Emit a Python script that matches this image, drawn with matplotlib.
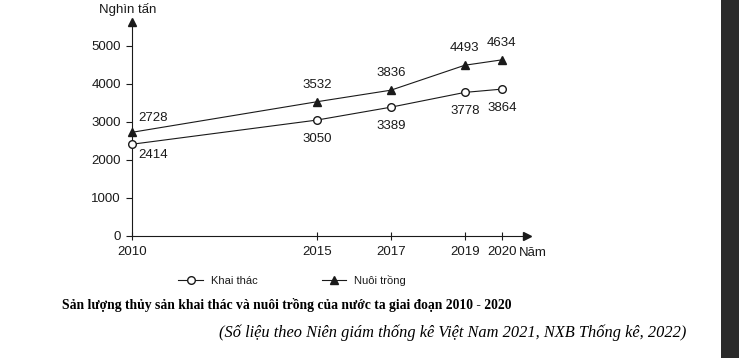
import matplotlib
matplotlib.use("Agg")
import matplotlib.pyplot as plt
from matplotlib.patches import Rectangle

years = [2010, 2015, 2017, 2019, 2020]
khai_thac = [2414, 3050, 3389, 3778, 3864]
nuoi_trong = [2728, 3532, 3836, 4493, 4634]
y_ticks = [0, 1000, 2000, 3000, 4000, 5000]

SANS = ["Liberation Sans", "DejaVu Sans"]
SERIF = ["Liberation Serif", "DejaVu Serif"]
INK = "#1a1a1a"

plt.rcParams["font.family"] = SANS

fig = plt.figure(figsize=(7.39, 3.58), dpi=100)
fig.patch.set_facecolor("white")

ax = fig.add_axes([132 / 739, 1 - 236 / 358, 395 / 739, 214 / 358])

ax.plot(
    years,
    nuoi_trong,
    color=INK,
    linewidth=0.8,
    marker="^",
    markersize=6,
    markerfacecolor=INK,
    markeredgecolor=INK,
    label="Nuôi trồng",
    clip_on=False,
    zorder=3
)

ax.plot(
    years,
    khai_thac,
    color=INK,
    linewidth=0.8,
    marker="o",
    markersize=5.5,
    markerfacecolor="white",
    markeredgecolor=INK,
    markeredgewidth=1.0,
    label="Khai thác",
    clip_on=False,
    zorder=3
)

# value labels
for i, year in enumerate(years):

    if i == 0:
        ax.annotate(str(nuoi_trong[i]), (year, nuoi_trong[i]),
                    xytext=(6, 14), textcoords="offset pixels",
                    ha="left", va="center", fontsize=9.5, color=INK)
        ax.annotate(str(khai_thac[i]), (year, khai_thac[i]),
                    xytext=(6, -11), textcoords="offset pixels",
                    ha="left", va="center", fontsize=9.5, color=INK)
    else:
        ax.annotate(str(nuoi_trong[i]), (year, nuoi_trong[i]),
                    xytext=(0, 17), textcoords="offset pixels",
                    ha="center", va="center", fontsize=9.5, color=INK)
        ax.annotate(str(khai_thac[i]), (year, khai_thac[i]),
                    xytext=(0, -19), textcoords="offset pixels",
                    ha="center", va="center", fontsize=9.5, color=INK)

ax.set_xlim(2010, 2020.68)
ax.set_ylim(0, 5630)

ax.set_xticks(years)
ax.set_xticklabels([str(y) for y in years])
ax.set_yticks(y_ticks)

ax.spines["top"].set_visible(False)
ax.spines["right"].set_visible(False)
for side in ["left", "bottom"]:
    ax.spines[side].set_color(INK)
    ax.spines[side].set_linewidth(0.8)

ax.tick_params(axis="y", direction="out", length=4, width=0.8,
               labelsize=9.5, colors=INK, pad=4)
ax.tick_params(axis="x", direction="inout", length=6, width=0.8,
               labelsize=9.5, colors=INK, pad=4)

# axis arrows
ax.plot(1, 0, ">", color=INK, markersize=6,
        transform=ax.transAxes, clip_on=False)
ax.plot(0, 1, "^", color=INK, markersize=6,
        transform=ax.transAxes, clip_on=False)

fig.text(128 / 739, 1 - 9 / 358, "Nghìn tấn", ha="center", va="center",
         fontsize=9.5, color=INK)
fig.text(519 / 739, 1 - 253 / 358, "Năm", ha="left", va="center",
         fontsize=9.5, color=INK)

handles, labels = ax.get_legend_handles_labels()
fig.legend(
    handles[::-1],
    labels[::-1],
    loc="center",
    bbox_to_anchor=(292 / 739, 1 - 280 / 358),
    ncol=2,
    frameon=False,
    fontsize=8,
    handlelength=2.2,
    handletextpad=0.7,
    columnspacing=5.8,
    labelcolor=INK
)

fig.text(62 / 739, 1 - 305 / 358,
         "Sản lượng thủy sản khai thác và nuôi trồng của nước ta giai đoạn 2010 - 2020",
         ha="left", va="center", fontsize=9.8, fontweight="bold",
         family=SERIF, color="black")

fig.text(686 / 739, 1 - 333 / 358,
         "(Số liệu theo Niên giám thống kê Việt Nam 2021, NXB Thống kê, 2022)",
         ha="right", va="center", fontsize=11.8, fontstyle="italic",
         family=SERIF, color="black")

fig.patches.append(Rectangle((721 / 739, 0), 18 / 739, 1,
                             transform=fig.transFigure,
                             facecolor="#2b2b2b", edgecolor="none"))

fig.savefig("out.png", dpi=100)
